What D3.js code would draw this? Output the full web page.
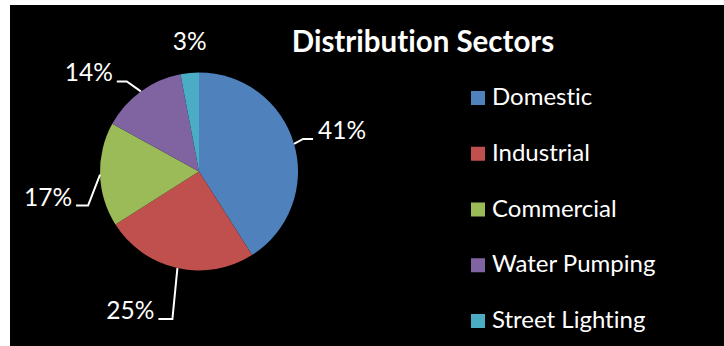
<!DOCTYPE html>
<html>
<head>
<meta charset="utf-8">
<script src="https://cdn.jsdelivr.net/npm/d3@7"></script>
<style>
  html, body { margin: 0; padding: 0; background: #fff; }
  svg { display: block; }
  text { font-variant-ligatures: none; }
</style>
</head>
<body>
<div id="chart"></div>
<script>
// data
var categories = ["Domestic", "Industrial", "Commercial", "Water Pumping", "Street Lighting"];
var shares = [41, 25, 17, 14, 3];
var colors = ["#4f81bd", "#c0504d", "#9bbb59", "#8064a2", "#4bacc6"];

// leader line layout per slice: elbow and end offsets from the pie edge
var leaders = [
  { elbow: [9, -5], end: [19, -5], anchor: "start" },
  { elbow: [-5, 51], end: [-19, 51], anchor: "end" },
  { elbow: [-12, 31], end: [-24, 31], anchor: "end" },
  { elbow: [-14, -10], end: [-24, -10], anchor: "end" },
  { elbow: null, end: [0, -23], anchor: "middle" }
];

var width = 724, height = 346;
var cx = 199, cy = 171.5, r = 99;
var font = "Lato, 'Open Sans', sans-serif";

var svg = d3.select("#chart").append("svg")
    .attr("width", width)
    .attr("height", height);

svg.append("rect")
    .attr("x", 10).attr("y", 5)
    .attr("width", width - 10).attr("height", height - 5)
    .attr("fill", "#000");

var pie = d3.pie().sort(null).value(function(d) { return d; });
var arcs = pie(shares);

var arc = d3.arc().innerRadius(0).outerRadius(r);
var edge = d3.arc().innerRadius(r).outerRadius(r);

var g = svg.append("g").attr("transform", "translate(" + cx + "," + cy + ")");

g.selectAll("path.slice")
  .data(arcs)
  .enter().append("path")
    .attr("class", "slice")
    .attr("d", arc)
    .attr("fill", function(d, i) { return colors[i]; });

// leader lines + labels
arcs.forEach(function(d, i) {
  var p = edge.centroid(d);
  var L = leaders[i];
  var end = [p[0] + L.end[0], p[1] + L.end[1]];
  if (L.elbow) {
    var elbow = [p[0] + L.elbow[0], p[1] + L.elbow[1]];
    g.append("path")
      .attr("d", d3.line()([p, elbow, end]))
      .attr("fill", "none")
      .attr("stroke", "#fff")
      .attr("stroke-width", 2);
  }
  var tx = end[0] + (L.anchor === "start" ? 5 : L.anchor === "end" ? -4 : 0);
  g.append("text")
    .attr("x", tx)
    .attr("y", end[1])
    .attr("text-anchor", L.anchor)
    .attr("fill", "#fff")
    .attr("font-family", font)
    .attr("font-size", 24.5)
    .text(shares[i] + "%");
});

// title
svg.append("text")
    .attr("x", 423)
    .attr("y", 52)
    .attr("text-anchor", "middle")
    .attr("fill", "#fff")
    .attr("font-family", font)
    .attr("font-weight", "bold")
    .attr("font-size", 29.5)
    .text("Distribution Sectors");

// legend
var legY = d3.scalePoint().domain(categories).range([105, 328]);

var leg = svg.selectAll("g.leg")
  .data(categories)
  .enter().append("g")
    .attr("class", "leg")
    .attr("transform", function(d) { return "translate(471," + legY(d) + ")"; });

leg.append("rect")
    .attr("x", 0).attr("y", -14)
    .attr("width", 14).attr("height", 14)
    .attr("fill", function(d, i) { return colors[i]; });

leg.append("text")
    .attr("x", 21)
    .attr("y", 0)
    .attr("fill", "#fff")
    .attr("font-family", font)
    .attr("font-size", 24)
    .text(function(d) { return d; });
</script>
</body>
</html>
